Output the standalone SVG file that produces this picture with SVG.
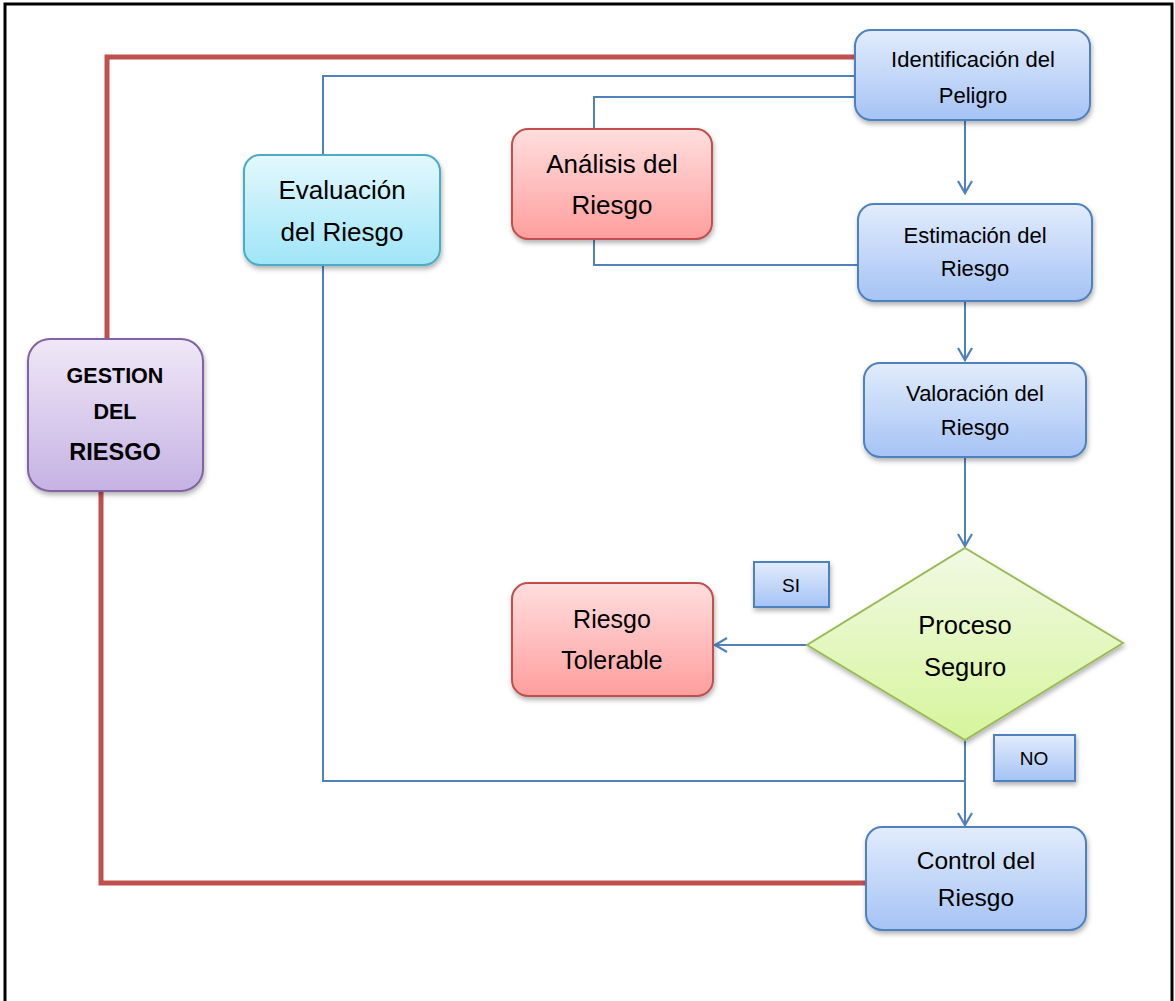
<svg xmlns="http://www.w3.org/2000/svg" width="1175" height="1001" viewBox="0 0 1175 1001">
<defs>
<linearGradient id="gBlue" x1="0" y1="0" x2="0" y2="1"><stop offset="0" stop-color="#e2ecfc"/><stop offset="1" stop-color="#a5c3f5"/></linearGradient>
<linearGradient id="gRed" x1="0" y1="0" x2="0" y2="1"><stop offset="0" stop-color="#ffdede"/><stop offset="1" stop-color="#ff9e9e"/></linearGradient>
<linearGradient id="gCyan" x1="0" y1="0" x2="0" y2="1"><stop offset="0" stop-color="#e3f8fd"/><stop offset="1" stop-color="#9fe5f8"/></linearGradient>
<linearGradient id="gPurple" x1="0" y1="0" x2="0" y2="1"><stop offset="0" stop-color="#efe8f7"/><stop offset="1" stop-color="#c6b2e4"/></linearGradient>
<linearGradient id="gGreen" x1="0" y1="0" x2="0" y2="1"><stop offset="0" stop-color="#f1f9e4"/><stop offset="1" stop-color="#d6f59c"/></linearGradient>
<filter id="sh" x="-10%" y="-10%" width="125%" height="130%"><feDropShadow dx="1" dy="3" stdDeviation="2.5" flood-color="#000" flood-opacity="0.3"/></filter>
<marker id="arr" markerWidth="16" markerHeight="16" refX="13" refY="8" orient="auto" markerUnits="userSpaceOnUse"><path d="M1,1 L13,8 L1,15" fill="none" stroke="#4f81bd" stroke-width="2.2"/></marker>
<style>
.t{font-family:"Liberation Sans",Arial,sans-serif;fill:#000;text-anchor:middle}
.blue{fill:url(#gBlue);stroke:#4f81bd;stroke-width:2}
.red{fill:url(#gRed);stroke:#c0504d;stroke-width:2}
.cyan{fill:url(#gCyan);stroke:#4bacc6;stroke-width:2}
.purple{fill:url(#gPurple);stroke:#8064a2;stroke-width:2}
.green{fill:url(#gGreen);stroke:#9bbb59;stroke-width:2}
.bl{fill:none;stroke:#4f81bd;stroke-width:2}
.rd{fill:none;stroke:#c0504d;stroke-width:5}
</style>
</defs>
<rect width="1175" height="1001" fill="#fff"/>
<path d="M5,1001 V4 H1172 V1001" fill="none" stroke="#000" stroke-width="3"/>
<g id="connectors">
<path class="rd" d="M107,339 V57 H858"/>
<path class="rd" d="M101,491 V883 H866"/>
<path class="bl" d="M323,155 V76 H855"/>
<path class="bl" d="M594,129 V97 H855"/>
<path class="bl" d="M594,239 V265 H858"/>
<path class="bl" d="M323,265 V781 H965"/>
<path class="bl" d="M965,120 V193" marker-end="url(#arr)"/>
<path class="bl" d="M965,301 V360" marker-end="url(#arr)"/>
<path class="bl" d="M965,457 V546" marker-end="url(#arr)"/>
<path class="bl" d="M807,645 H715" marker-end="url(#arr)"/>
<path class="bl" d="M965,740 V825" marker-end="url(#arr)"/>
</g>
<g id="identificacion"><rect class="blue" filter="url(#sh)" x="855" y="30" width="235" height="90" rx="16"/><text class="t" font-size="22"><tspan x="973" y="67">Identificación del</tspan><tspan x="973" y="103">Peligro</tspan></text></g>
<g id="estimacion"><rect class="blue" filter="url(#sh)" x="858" y="204" width="234" height="97" rx="16"/><text class="t" font-size="22"><tspan x="975" y="243">Estimación del</tspan><tspan x="975" y="276">Riesgo</tspan></text></g>
<g id="valoracion"><rect class="blue" filter="url(#sh)" x="864" y="363" width="222" height="94" rx="16"/><text class="t" font-size="22"><tspan x="975" y="401">Valoración del</tspan><tspan x="975" y="435">Riesgo</tspan></text></g>
<g id="proceso"><polygon class="green" filter="url(#sh)" points="965,548 1123,643 965,740 807,645"/><text class="t" font-size="25.5"><tspan x="965" y="634">Proceso</tspan><tspan x="965" y="676">Seguro</tspan></text></g>
<g id="control"><rect class="blue" filter="url(#sh)" x="866" y="827" width="220" height="103" rx="16"/><text class="t" font-size="24.5"><tspan x="976" y="869">Control del</tspan><tspan x="976" y="906">Riesgo</tspan></text></g>
<g id="tolerable"><rect class="red" filter="url(#sh)" x="512" y="583" width="201" height="113" rx="16"/><text class="t" font-size="25"><tspan x="612" y="628">Riesgo</tspan><tspan x="612" y="669">Tolerable</tspan></text></g>
<g id="analisis"><rect class="red" filter="url(#sh)" x="512" y="129" width="200" height="110" rx="16"/><text class="t" font-size="26"><tspan x="612" y="173">Análisis del</tspan><tspan x="612" y="214">Riesgo</tspan></text></g>
<g id="evaluacion"><rect class="cyan" filter="url(#sh)" x="244" y="155" width="196" height="110" rx="16"/><text class="t" font-size="26"><tspan x="342" y="199">Evaluación</tspan><tspan x="342" y="241">del Riesgo</tspan></text></g>
<g id="gestion"><rect class="purple" filter="url(#sh)" x="28" y="339" width="175" height="152" rx="22"/><text class="t" font-weight="bold"><tspan x="115" y="383" font-size="21.5">GESTION</tspan><tspan x="115" y="419" font-size="21.5">DEL</tspan><tspan x="115" y="460" font-size="23.5">RIESGO</tspan></text></g>
<g id="si"><rect class="blue" filter="url(#sh)" x="754" y="562" width="75" height="45" rx="0"/><text class="t" font-size="19" x="791" y="592">SI</text></g>
<g id="no"><rect class="blue" filter="url(#sh)" x="994" y="735" width="81" height="46" rx="0"/><text class="t" font-size="19" x="1034" y="765">NO</text></g>
</svg>
